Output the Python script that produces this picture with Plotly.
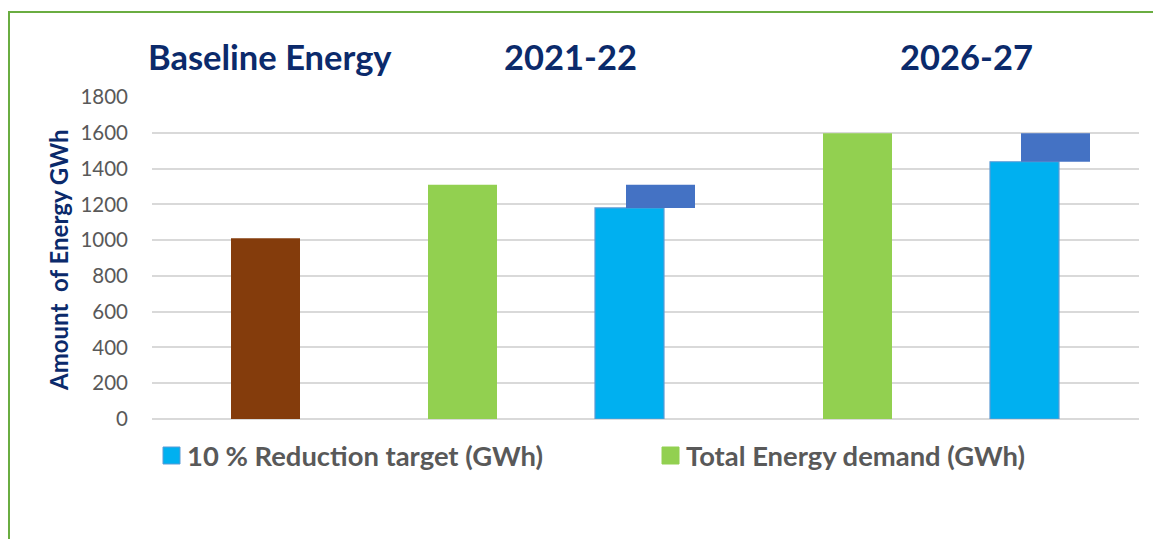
import plotly.graph_objects as go

# ---- data ----
baseline_label = "Baseline Energy"
baseline_value = [1010]
periods = ["2021-22", "2026-27"]
total_demand = [1310, 1598]          # GWh
reduction_target = [1180, 1438]      # GWh (after 10 % reduction)
y_ticks = [0, 200, 400, 600, 800, 1000, 1200, 1400, 1600, 1800]

# ---- layout helpers (positions along a linear x axis) ----
baseline_pos = [113.5]
demand_pos = [310.5, 705.5]
target_pos = [477.5, 872.5]
saving_shift = 31
bar_w = 69

NAVY = "#0B2A6B"
GRAY = "#595959"
FONT = "Lato"

saving = [d - t for d, t in zip(total_demand, reduction_target)]

fig = go.Figure()
fig.add_trace(go.Bar(x=baseline_pos, y=baseline_value, width=bar_w,
                     marker=dict(color="#843C0C", line=dict(width=0)),
                     name=baseline_label, showlegend=False))
fig.add_trace(go.Bar(x=demand_pos, y=total_demand, width=bar_w,
                     marker=dict(color="#92D050", line=dict(width=0)),
                     name="Total Energy demand (GWh)", showlegend=False))
fig.add_trace(go.Bar(x=target_pos, y=reduction_target, width=bar_w,
                     marker=dict(color="#00B0F0", line=dict(color="#5B9BD5", width=1.2)),
                     name="10 % Reduction target (GWh)", showlegend=False))
fig.add_trace(go.Bar(x=[p + saving_shift for p in target_pos], y=saving,
                     base=reduction_target, width=bar_w,
                     marker=dict(color="#4472C4", line=dict(width=0)),
                     name="Reduction", showlegend=False))

OFF = 8  # page body margin
W, H = 1161 - OFF, 539 - OFF
PW, PH = 987, 322
PL, PT = 152 - OFF, 97 - OFF

def px_x(px):
    return (px - OFF - PL) / PW

def px_y(py):
    return (PT + PH - (py - OFF)) / PH

# Titles
fig.add_annotation(text="<b>" + baseline_label + "</b>", x=px_x(269.5), y=px_y(57),
                   xref="paper", yref="paper", showarrow=False,
                   xanchor="center", yanchor="middle",
                   font=dict(family=FONT, size=34.5, color=NAVY))
for lbl, cx in zip(periods, [570, 966]):
    fig.add_annotation(text="<b>" + lbl + "</b>", x=px_x(cx), y=px_y(57),
                       xref="paper", yref="paper", showarrow=False,
                       xanchor="center", yanchor="middle",
                       font=dict(family=FONT, size=34.5, color=NAVY))

# y-axis title
fig.add_annotation(text="<b>Amount  of Energy GWh</b>", x=px_x(58), y=px_y(260),
                   xref="paper", yref="paper", showarrow=False, textangle=-90,
                   xanchor="center", yanchor="middle",
                   font=dict(family=FONT, size=24, color=NAVY))

# Legend (custom)
legend_items = [("10 % Reduction target (GWh)", "#00B0F0", 163), ("Total Energy demand (GWh)", "#92D050", 662)]
for txt, col, sx in legend_items:
    fig.add_shape(type="rect", xref="paper", yref="paper",
                  x0=px_x(sx), x1=px_x(sx + 17), y0=px_y(464), y1=px_y(447),
                  fillcolor=col, line=dict(color="#5B9BD5" if col == "#00B0F0" else col, width=1))
    fig.add_annotation(text="<b>" + txt + "</b>", x=px_x(sx + 22), y=px_y(455),
                       xref="paper", yref="paper", showarrow=False,
                       xanchor="left", yanchor="middle",
                       font=dict(family=FONT, size=27.4, color=GRAY))

# Green border
fig.add_shape(type="rect", xref="paper", yref="paper", layer="below",
              x0=px_x(9), x1=px_x(1200), y0=px_y(600), y1=px_y(12),
              line=dict(color="#6AAD41", width=2), fillcolor="rgba(0,0,0,0)")

fig.update_layout(
    width=W, height=H, autosize=False,
    margin=dict(l=PL, r=W - PL - PW, t=PT, b=H - PT - PH),
    paper_bgcolor="white", plot_bgcolor="white",
    barmode="overlay",
    showlegend=False,
    xaxis=dict(range=[0, PW], showticklabels=False, showgrid=False, zeroline=False,
               showline=False, fixedrange=True),
    yaxis=dict(range=[0, 1800], tickvals=y_ticks, showgrid=True, gridcolor="#D9D9D9",
               gridwidth=1.5, zeroline=True, zerolinecolor="#D9D9D9", zerolinewidth=1.5,
               showline=False, ticks="", ticklabelstandoff=23,
               tickfont=dict(family=FONT, size=20.5, color=GRAY), fixedrange=True),
)

fig.write_html("out.html")
